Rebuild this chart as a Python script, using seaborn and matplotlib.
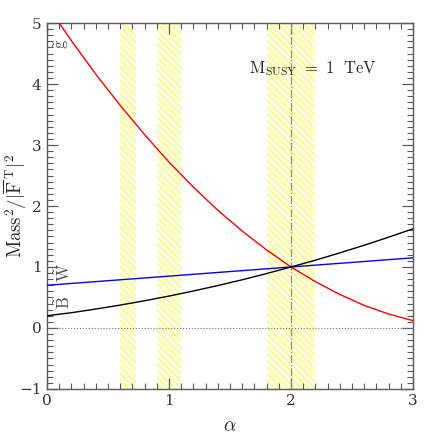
import numpy as np
import pandas as pd
import matplotlib
matplotlib.use('Agg')
import matplotlib.pyplot as plt
import seaborn as sns
from matplotlib.ticker import MultipleLocator

# values
alpha = [0.0, 0.2, 0.4, 0.6, 0.8, 1.0, 1.2, 1.4, 1.6, 1.8, 2.0, 2.2, 2.4, 2.6, 2.8, 3.0]
gluino_alpha = [0.1, 0.2, 0.4, 0.6, 0.8, 1.0, 1.2, 1.4, 1.6, 1.8, 2.0, 2.2, 2.4, 2.6, 2.8, 3.0]
gluino = [5.00, 4.71, 4.16, 3.65, 3.17, 2.72, 2.31, 1.93, 1.59, 1.28, 1.00, 0.76, 0.55, 0.37, 0.23, 0.12]
wino = [0.70, 0.73, 0.76, 0.79, 0.82, 0.85, 0.88, 0.91, 0.94, 0.97, 1.00, 1.03, 1.06, 1.09, 1.12, 1.15]
bino = [0.20, 0.25, 0.31, 0.375, 0.446, 0.523, 0.606, 0.695, 0.79, 0.892, 1.00, 1.111, 1.231, 1.356, 1.488, 1.626]
bands = [(0.6, 0.73), (0.9, 1.1), (1.8, 2.2)]

df = pd.concat([
    pd.DataFrame({'alpha': gluino_alpha, 'mass2': gluino, 'state': 'gluino'}),
    pd.DataFrame({'alpha': alpha, 'mass2': wino, 'state': 'wino'}),
    pd.DataFrame({'alpha': alpha, 'mass2': bino, 'state': 'bino'}),
])

sns.set_style('ticks')
plt.rcParams['font.family'] = ['DejaVu Serif']
plt.rcParams['mathtext.fontset'] = 'cm'
plt.rcParams['hatch.linewidth'] = 0.5

fig = plt.figure(figsize=(4.36, 4.36), dpi=100)
ax = fig.add_axes([0.108, 0.108, 0.839, 0.839])

# hatched yellow bands
for lo, hi in bands:
    ax.axvspan(lo, hi, facecolor='#ffffd8', edgecolor='#f2ee70', hatch='\\\\\\\\\\', linewidth=0, zorder=0)

ax.axhline(0, color='0.45', linestyle=':', linewidth=0.8, zorder=1)
ax.axvline(2, color='0.55', linestyle='-.', linewidth=0.9, zorder=1)

sns.lineplot(ax=ax, data=df, x='alpha', y='mass2', hue='state', sort=False,
             palette={'gluino': 'red', 'wino': 'blue', 'bino': 'black'},
             linewidth=1.0, legend=False, zorder=3)

ax.set_xlim(0, 3)
ax.set_ylim(-1, 5)
ax.xaxis.set_major_locator(MultipleLocator(1))
ax.xaxis.set_minor_locator(MultipleLocator(0.1))
ax.yaxis.set_major_locator(MultipleLocator(1))
ax.yaxis.set_minor_locator(MultipleLocator(0.1))
ax.tick_params(which='both', direction='in', top=True, right=True, color='0.35',
               labelsize=11, labelcolor='0.2')
ax.tick_params(which='major', length=8, width=0.9, pad=4)
ax.tick_params(which='minor', length=4, width=0.8)
for s in ax.spines.values():
    s.set_color('0.35')
    s.set_linewidth(1.0)

ax.set_xlabel(r'$\alpha$', fontsize=14)
ax.set_ylabel(r'$\mathrm{Mass}^2/|\overline{\mathrm{F}}^{\,\mathrm{T}}|^2$', fontsize=13.5)
ax.xaxis.set_label_coords(0.5, -0.078)
ax.yaxis.set_label_coords(-0.05, 0.5)

ax.text(0.12, 4.66, r'$\tilde{\mathrm{g}}$', rotation=90, fontsize=12, color='0.3', ha='center', va='center')
ax.text(0.14, 0.9, r'$\tilde{\mathrm{W}}$', rotation=90, fontsize=12, color='0.3', ha='center', va='center')
ax.text(0.14, 0.42, r'$\tilde{\mathrm{B}}$', rotation=90, fontsize=12, color='0.3', ha='center', va='center')
ax.text(1.66, 4.18, r'$\mathrm{M_{SUSY}}\ =\ 1\ \ \mathrm{TeV}$', fontsize=12, color='0.15')

plt.savefig('out.png', dpi=100)
